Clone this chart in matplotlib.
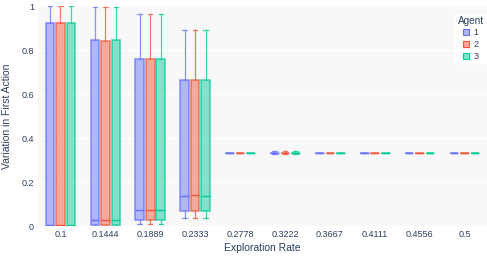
import numpy as np
import matplotlib.pyplot as plt
from matplotlib.lines import Line2D

plt.rcParams['font.family'] = ['Liberation Sans', 'DejaVu Sans']

rates = ['0.1', '0.1444', '0.1889', '0.2333', '0.2778', '0.3222', '0.3667', '0.4111', '0.4556', '0.5']
agents = ['1', '2', '3']
colors = ['#636EFA', '#EF553B', '#00CC96']

third = 1 / 3
# box stats per exploration rate (same for every agent)
whislo = [0.0, 0.0, 0.01, 0.038, third, third - 0.008, third, third, third, third]
q1 = [0.0, 0.005, 0.026, 0.067, third, third, third, third, third, third]
med = [0.004, 0.029, 0.071, 0.136, third, third, third, third, third, third]
q3 = [0.921, 0.844, 0.758, 0.664, third, third, third, third, third, third]
whishi = [1.0, 0.997, 0.965, 0.89, third, third + 0.008, third, third, third, third]
# agent 2 is a tiny bit different at some rates
q3_agent2 = [0.921, 0.842, 0.758, 0.665, third, third, third, third, third, third]
med_agent2 = [0.004, 0.029, 0.071, 0.139, third, third, third, third, third, third]

fig = plt.figure(figsize=(4.87, 2.57), dpi=100)
ax = fig.add_axes([38 / 487, 31 / 257, 449 / 487, 220 / 257])
ax.set_facecolor('#f8f8f8')
for s in ax.spines.values():
    s.set_visible(False)

pos = np.arange(len(rates))
offsets = [-0.234, 0, 0.234]
for a, agent in enumerate(agents):
    a_q3 = q3_agent2 if a == 1 else q3
    a_med = med_agent2 if a == 1 else med
    stats = []
    for i in range(len(rates)):
        stats.append(dict(whislo=whislo[i], q1=q1[i], med=a_med[i], q3=a_q3[i],
                          whishi=whishi[i], fliers=[]))
    c = colors[a]
    ax.bxp(stats, positions=pos + offsets[a], widths=0.19, patch_artist=True,
           showfliers=False, manage_ticks=False,
           boxprops=dict(facecolor=c + '7a', edgecolor=c + 'c0', linewidth=1.1),
           medianprops=dict(color=c, linewidth=1.0),
           whiskerprops=dict(color=c + 'c0', linewidth=0.9),
           capprops=dict(color=c + 'c0', linewidth=0.9), capwidths=0.1, zorder=3)

ax.set_xlim(-0.5, len(rates) - 0.5)
ax.set_ylim(0, 1)
ax.set_xticks(pos)
ax.set_xticklabels(rates)
ax.set_yticks([0, 0.2, 0.4, 0.6, 0.8, 1])
ax.set_yticklabels(['0', '0.2', '0.4', '0.6', '0.8', '1'])
ax.tick_params(length=0, labelsize=6.5, colors='#2a3f5f', pad=3)
ax.yaxis.grid(True, color='white', linewidth=1, zorder=0)
ax.set_axisbelow(True)
ax.set_xlabel('Exploration Rate', fontsize=7.5, color='#2a3f5f', labelpad=3)
ax.set_ylabel('Variation in First Action', fontsize=7.5, color='#2a3f5f')
ax.yaxis.set_label_coords(-0.058, 0.5)

handles = [Line2D([], [], marker='s', linestyle='none', markersize=4.8,
                  markerfacecolor=c + '80', markeredgecolor=c, markeredgewidth=0.8)
           for c in colors]
leg = ax.legend(handles, agents, title='Agent', loc='upper right',
                bbox_to_anchor=(1.0, 0.97), fontsize=6.5, title_fontsize=7.2,
                frameon=True, fancybox=False, framealpha=1, edgecolor='white',
                handlelength=0.7, handletextpad=0.5, borderpad=0.25, labelspacing=0.3,
                borderaxespad=0.1)
leg.get_title().set_color('#2a3f5f')
for t in leg.get_texts():
    t.set_color('#2a3f5f')

fig.savefig('out.png', dpi=100)
